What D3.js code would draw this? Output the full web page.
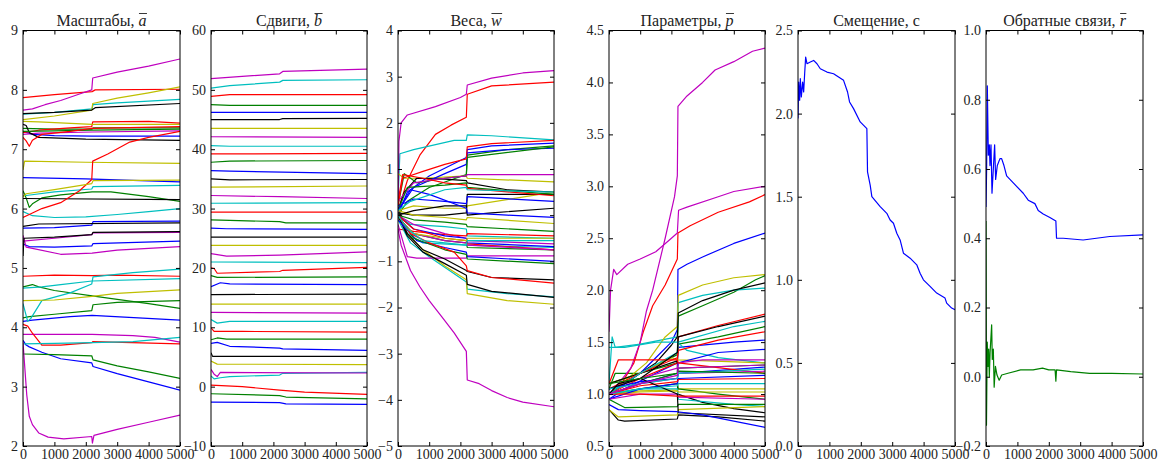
<!DOCTYPE html>
<html><head><meta charset="utf-8">
<script src="https://cdn.jsdelivr.net/npm/d3@7"></script>
<style>
body{margin:0;background:#fff}
svg text{font-family:"Liberation Serif","DejaVu Serif",serif;fill:#222}
</style>
</head><body>
<svg id="chart" width="1161" height="462"></svg>
<script>
// ---------- data ----------
const xTicks = [0, 1000, 2000, 3000, 4000, 5000];
const colorCycle = ["#0000ff", "#008000", "#ff0000", "#00bfbf", "#bf00bf", "#bfbf00", "#000000"];

const titles = [["Масштабы, ", "a"], ["Сдвиги, ", "b"], ["Веса, ", "w"], ["Параметры, ", "p"], ["Смещение, c", ""], ["Обратные связи, ", "r"]];

const ticksA = [2, 3, 4, 5, 6, 7, 8, 9];
const ticksB = [-10, 0, 10, 20, 30, 40, 50, 60];
const ticksW = [-5, -4, -3, -2, -1, 0, 1, 2, 3, 4];
const ticksP = [0.5, 1.0, 1.5, 2.0, 2.5, 3.0, 3.5, 4.0, 4.5];
const ticksC = [0.0, 0.5, 1.0, 1.5, 2.0, 2.5];
const ticksR = [-0.2, 0.0, 0.2, 0.4, 0.6, 0.8, 1.0];

// Scales a (series in colour-cycle order b,g,r,c,m,y,k)
const scalesA = [
 [[0,7.3],[300,7.25],[1000,7.23],[2200,7.22],[5000,7.22]],
 [[0,7.35],[1000,7.34],[2200,7.34],[2230,7.36],[5000,7.36]],
 [[0,7.87],[1000,7.92],[2200,7.97],[2300,8.0],[5000,8.01]],
 [[0,7.59],[1000,7.62],[2200,7.68],[2230,7.75],[3000,7.78],[5000,7.84]],
 [[0,7.66],[300,7.68],[700,7.75],[1200,7.82],[1800,7.93],[2190,8.0],[2220,8.2],[3000,8.3],[4000,8.4],[5000,8.52]],
 [[0,7.5],[1000,7.56],[2190,7.66],[2220,7.77],[3000,7.86],[4000,7.95],[5000,8.05]],
 [[0,7.6],[1000,7.62],[2190,7.66],[2300,7.7],[5000,7.77]],

 [[0,6.52],[2000,6.5],[5000,6.45]],
 [[0,6.3],[100,6.18],[200,6.02],[300,6.08],[600,6.18],[1200,6.23],[2200,6.28],[2800,6.28],[4000,6.2],[5000,6.12]],
 [[0,7.28],[500,7.32],[1500,7.36],[2190,7.38],[2220,7.46],[4000,7.47],[5000,7.44]],
 [[0,6.22],[100,6.22],[1000,6.28],[2190,6.33],[2230,6.37],[5000,6.39]],
 [[0,7.25],[500,7.27],[2200,7.29],[5000,7.31]],
 [[0,7.47],[500,7.46],[2200,7.42],[5000,7.42]],
 [[0,7.42],[100,7.4],[200,7.28],[500,7.2],[2000,7.17],[5000,7.15]],

 [[0,5.67],[1000,5.68],[2190,5.72],[2230,5.78],[5000,5.79]],
 [[0,7.3],[1000,7.31],[2200,7.32],[5000,7.34]],
 [[0,7.2],[100,7.14],[200,7.05],[300,7.15],[600,7.25],[1500,7.3],[2200,7.35],[5000,7.38]],
 [[0,5.95],[300,5.88],[1000,5.85],[2000,5.86],[3000,5.9],[4000,5.95],[5000,6.0]],
 [[0,5.45],[1000,5.5],[2190,5.56],[2230,5.59],[5000,5.6]],
 [[0,6.65],[50,6.8],[2000,6.78],[5000,6.76]],
 [[0,6.17],[5000,6.15]],

 [[0,5.4],[200,5.36],[1000,5.35],[2190,5.37],[2230,5.41],[5000,5.45]],
 [[0,4.68],[300,4.72],[500,4.68],[1000,4.62],[2200,4.53],[3000,4.47],[4000,4.4],[5000,4.32]],
 [[0,5.85],[200,5.9],[600,6.0],[1200,6.1],[1800,6.3],[2190,6.49],[2220,6.8],[2700,6.92],[3400,7.12],[4000,7.2],[5000,7.3]],
 [[0,4.66],[600,4.68],[1200,4.72],[2200,4.78],[5000,4.82]],
 [[0,5.55],[100,5.35],[300,5.33],[1200,5.23],[2200,5.25],[3000,5.3],[5000,5.36]],
 [[0,6.2],[100,6.25],[1000,6.32],[2190,6.42],[2230,6.47],[5000,6.48]],
 [[0,5.7],[500,5.74],[5000,5.76]],

 [[0,4.1],[300,4.12],[1500,4.18],[2200,4.2],[5000,4.12]],
 [[0,4.16],[200,4.18],[1000,4.22],[2190,4.28],[2230,4.38],[3000,4.42],[5000,4.45]],
 [[0,4.86],[1000,4.88],[2200,4.87],[3000,4.88],[5000,4.86]],
 [[0,4.4],[150,4.1],[250,4.15],[600,4.45],[1500,4.58],[2190,4.73],[2230,4.85],[3500,4.92],[5000,4.98]],
 [[0,3.88],[1000,3.88],[2200,3.88],[3500,3.86],[4200,3.83],[5000,3.75]],
 [[0,4.45],[1000,4.46],[2200,4.52],[3000,4.57],[5000,4.63]],
 [[0,5.2],[30,5.5],[1000,5.52],[2190,5.56],[2230,5.6],[5000,5.61]],

 [[0,3.78],[100,3.7],[200,3.67],[600,3.58],[1200,3.47],[2190,3.4],[2230,3.34],[3000,3.22],[4000,3.08],[5000,2.94]],
 [[0,3.55],[1000,3.54],[2190,3.52],[2230,3.45],[3000,3.35],[4000,3.25],[5000,3.14]],
 [[0,4.05],[150,4.02],[300,3.9],[600,3.7],[1200,3.7],[2190,3.74],[2230,3.76],[5000,3.72]],
 [[0,3.72],[1000,3.73],[2200,3.74],[3500,3.76],[5000,3.83]],
 [[0,3.75],[60,3.3],[120,2.86],[200,2.5],[300,2.36],[500,2.22],[800,2.15],[1300,2.12],[2190,2.16],[2210,2.05],[2260,2.18],[3000,2.28],[4000,2.4],[5000,2.52]]
];

// Shifts b
const shiftsB = [
 [[0,-2.6],[2200,-2.7],[2400,-2.9],[5000,-3.0]],
 [[0,-1.2],[2200,-1.5],[2400,-1.75],[5000,-2.05]],
 [[0,0.25],[1000,0.0],[2200,-0.6],[3000,-0.93],[5000,-1.3]],
 [[0,1.8],[100,1.3],[300,1.5],[600,1.7],[2200,1.95],[2300,2.25],[5000,2.4]],
 [[0,2.9],[100,2.1],[200,1.7],[300,2.4],[5000,2.3]],
 [[0,4.3],[200,3.8],[5000,3.7]],
 [[0,5.7],[50,5.1],[5000,5.1]],
 [[0,7.3],[200,7.45],[600,6.8],[2200,6.5],[2300,6.35],[5000,6.1]],
 [[0,7.9],[200,8.2],[500,8.0],[5000,8.0]],
 [[0,9.9],[100,9.3],[1000,9.3],[5000,9.2]],
 [[0,11.3],[200,10.7],[600,11.0],[5000,11.0]],
 [[0,12.5],[5000,12.4]],
 [[0,13.9],[5000,13.9]],
 [[0,15.5],[5000,15.6]],
 [[0,16.85],[300,17.5],[600,17.3],[5000,17.2]],
 [[0,18.7],[200,18.4],[5000,18.5]],
 [[0,20.0],[100,19.9],[200,19.1],[2200,19.4],[2300,19.6],[5000,20.1]],
 [[0,21.0],[5000,20.9]],
 [[0,22.4],[500,22.0],[2200,22.15],[5000,22.7]],
 [[0,23.8],[5000,23.8]],
 [[0,25.2],[5000,25.2]],
 [[0,26.7],[500,26.6],[5000,26.5]],
 [[0,28.1],[600,28.0],[2200,27.8],[2400,27.6],[5000,27.6]],
 [[0,29.4],[5000,29.4]],
 [[0,30.9],[5000,31.0]],
 [[0,32.2],[2200,32.0],[5000,31.7]],
 [[0,33.6],[5000,33.8]],
 [[0,35.0],[600,34.85],[5000,34.9]],
 [[0,36.4],[600,36.3],[5000,35.9]],
 [[0,37.8],[600,38.0],[5000,38.1]],
 [[0,39.2],[5000,39.3]],
 [[0,40.6],[600,40.5],[5000,40.5]],
 [[0,42.1],[5000,42.0]],
 [[0,43.5],[5000,43.5]],
 [[0,45.0],[2200,45.0],[2300,45.15],[5000,45.2]],
 [[0,46.2],[5000,46.2]],
 [[0,47.5],[600,47.4],[5000,47.4]],
 [[0,48.9],[600,49.2],[5000,49.2]],
 [[0,50.3],[600,50.7],[2200,51.3],[2300,51.6],[5000,51.7]],
 [[0,51.9],[2200,52.7],[2300,53.1],[5000,53.5]]
];

// Weights w
const weightsW = [
 [[0,0],[300,0.5],[1000,0.85],[2190,1.25],[2220,1.42],[3000,1.5],[5000,1.56]],
 [[0,0],[300,0.3],[1000,0.6],[2190,0.88],[2220,1.3],[3500,1.42],[5000,1.5]],
 [[0,0.1],[300,0.75],[700,1.3],[1200,1.75],[1700,1.95],[2190,2.12],[2220,2.62],[3000,2.8],[5000,2.88]],
 [[0,0.3],[60,1.33],[500,1.42],[1800,1.62],[2190,1.62],[2220,1.74],[3000,1.72],[5000,1.63]],
 [[0,0],[30,1.6],[100,2.0],[300,2.17],[1200,2.35],[2000,2.55],[2190,2.62],[2220,2.82],[3000,2.97],[4000,3.08],[5000,3.13]],
 [[0,0.9],[200,0.8],[800,0.8],[2190,0.85],[2220,0.8],[5000,0.72]],
 [[0,0.1],[200,0.5],[600,0.8],[1500,0.78],[2190,0.75],[2220,0.7],[3500,0.55],[5000,0.5]],

 [[0,0.1],[500,0.6],[1500,0.9],[2190,1.1],[2220,1.35],[3500,1.42],[5000,1.45]],
 [[0,0.2],[200,0.9],[600,0.7],[1500,0.8],[2190,0.85],[2220,1.25],[5000,1.48]],
 [[0,0.2],[150,0.8],[800,0.95],[1500,1.1],[2190,1.22],[2220,1.48],[3000,1.55],[5000,1.62]],
 [[0,0],[400,-0.2],[1500,-0.25],[2190,-0.3],[2220,-0.45],[5000,-0.5]],
 [[0,0.3],[500,0.7],[1500,0.8],[2190,0.85],[2220,0.88],[5000,0.88]],
 [[0,0.1],[500,0.2],[1500,0.15],[2190,0.15],[2220,0.2],[5000,0.5]],
 [[0,0.05],[500,0.0],[1500,0.0],[2190,0.05],[2220,0.45],[5000,0.45]],

 [[0,0.2],[500,0.35],[1500,0.3],[2190,0.25],[2220,0.4],[5000,0.3]],
 [[0,0.1],[300,0.6],[1500,0.65],[2190,0.7],[2220,0.6],[5000,0.45]],
 [[0,0.3],[150,0.88],[800,0.8],[1500,0.7],[2190,0.65],[2220,0.58],[5000,0.42]],
 [[0,0],[300,-0.4],[800,-0.6],[2190,-0.65],[2220,-0.65],[5000,-0.7]],
 [[0,0],[500,-0.2],[1500,-0.4],[2190,-0.5],[2220,-0.55],[5000,-0.62]],
 [[0,0.1],[500,0.0],[1500,-0.05],[2190,-0.1],[2220,-0.05],[5000,-0.18]],
 [[0,0],[500,0.1],[1500,0.2],[2190,0.2],[2220,0.0],[3000,0.05],[5000,0.15]],

 [[0,0.1],[400,0.55],[1000,0.45],[2190,0.15],[2220,0.05],[3500,0.0],[5000,-0.05]],
 [[0,0],[500,-0.1],[1500,-0.15],[2190,-0.2],[2220,-0.25],[5000,-0.35]],
 [[0,-0.3],[500,-0.35],[1500,-0.42],[2190,-0.45],[2220,-0.4],[5000,-0.45]],
 [[0,-0.1],[400,-0.6],[1000,-0.9],[2190,-1.45],[2220,-1.6],[3500,-1.7],[5000,-1.77]],
 [[0,-0.2],[300,-0.9],[600,-0.93],[2190,-0.93],[2220,-0.88],[5000,-0.88]],
 [[0,0],[300,-0.4],[800,-0.75],[1500,-1.1],[2190,-1.4],[2220,-1.7],[3500,-1.85],[5000,-1.93]],
 [[0,0],[300,-0.4],[800,-0.75],[1500,-0.95],[2190,-1.2],[2220,-1.22],[3000,-1.35],[5000,-1.4]],

 [[0,0],[500,-0.3],[1500,-0.45],[2190,-0.5],[2220,-0.6],[5000,-0.68]],
 [[0,-0.05],[500,-0.4],[1500,-0.55],[2190,-0.6],[2220,-0.7],[5000,-0.75]],
 [[0,0],[500,-0.3],[1500,-0.5],[2190,-0.55],[2220,-0.62],[5000,-0.75]],
 [[0,0.1],[400,0.3],[1500,0.55],[2190,0.6],[2220,0.55],[5000,0.5]],
 [[0,-0.1],[500,-0.4],[1500,-0.55],[2190,-0.6],[2220,-0.65],[5000,-0.75]],
 [[0,-0.1],[500,-0.4],[1500,-0.5],[2190,-0.55],[2220,-0.5],[5000,-0.5]],
 [[0,0],[300,-0.45],[800,-0.8],[1500,-1.05],[2190,-1.3],[2220,-1.5],[3000,-1.65],[5000,-1.78]],

 [[0,-0.1],[600,-0.55],[1500,-0.7],[2190,-0.8],[2220,-0.9],[5000,-1.0]],
 [[0,0],[500,-0.5],[1500,-0.75],[2190,-0.85],[2220,-0.95],[5000,-1.05]],
 [[0,0],[400,-0.4],[1000,-0.6],[1800,-0.8],[2190,-1.1],[2220,-1.2],[3000,-1.35],[5000,-1.47]],
 [[0,0],[300,-0.3],[800,-0.55],[1500,-0.6],[2190,-0.65],[2220,-0.55],[5000,-0.55]],
 [[0,-0.3],[100,-0.65],[400,-1.2],[700,-1.55],[1000,-1.85],[1400,-2.2],[1800,-2.55],[2190,-2.95],[2220,-3.57],[2600,-3.65],[3000,-3.8],[3500,-3.95],[4000,-4.05],[5000,-4.15]]
];

// Parameters p
const paramsP = [
 [[0,1.0],[500,1.1],[1000,1.2],[1500,1.35],[2000,1.5],[2190,1.62],[2210,2.2],[2500,2.25],[3000,2.32],[4000,2.45],[5000,2.55]],
 [[0,1.05],[200,1.2],[1000,1.2],[2190,1.38],[2220,1.75],[3000,1.85],[4000,1.98],[4700,2.1],[5000,2.14]],
 [[0,1.0],[400,1.1],[800,1.3],[1100,1.6],[1400,1.85],[1800,2.05],[2190,2.3],[2210,2.55],[2600,2.62],[3500,2.75],[4500,2.85],[5000,2.92]],
 [[0,1.1],[100,1.55],[200,1.45],[1000,1.48],[2190,1.55],[2220,1.88],[3000,1.95],[4000,2.0],[5000,2.02]],
 [[0,1.0],[300,1.1],[700,1.25],[1000,1.5],[1200,1.8],[1400,2.0],[1800,2.5],[2100,2.9],[2190,3.1],[2210,3.77],[2500,3.87],[3000,4.0],[3400,4.12],[4000,4.2],[4600,4.3],[5000,4.33]],
 [[0,1.0],[600,1.15],[1200,1.3],[1800,1.55],[2190,1.65],[2220,1.95],[3000,2.05],[4000,2.12],[5000,2.15]],
 [[0,1.0],[500,1.1],[1000,1.2],[1500,1.3],[2000,1.47],[2190,1.55],[2220,1.78],[3000,1.9],[4000,2.0],[5000,2.07]],

 [[0,0.95],[500,1.05],[1500,1.2],[2190,1.3],[2220,1.45],[4000,1.5],[5000,1.52]],
 [[0,1.1],[1000,1.2],[2190,1.3],[2220,1.48],[3500,1.55],[5000,1.65]],
 [[0,1.0],[1000,1.15],[2190,1.3],[2220,1.55],[3500,1.66],[5000,1.77]],
 [[0,1.45],[500,1.45],[1500,1.5],[2190,1.5],[2500,1.42],[3500,1.35],[5000,1.3]],
 [[0,1.6],[50,2.0],[150,2.2],[250,2.15],[600,2.25],[1000,2.3],[1500,2.37],[2000,2.5],[2190,2.55],[2230,2.77],[2500,2.8],[3500,2.9],[4000,2.95],[5000,3.0]],
 [[0,1.1],[1000,1.2],[2000,1.35],[2220,1.33],[5000,1.3]],
 [[0,1.1],[1000,1.2],[2190,1.32],[2200,1.0],[3000,0.92],[4000,0.86],[5000,0.82]],

 [[0,1.0],[1000,1.1],[2190,1.2],[2220,1.3],[3500,1.4],[5000,1.43]],
 [[0,1.0],[1000,1.1],[2190,1.2],[2220,1.25],[5000,1.28]],
 [[0,1.05],[1000,1.2],[2190,1.35],[2220,1.42],[3500,1.52],[5000,1.6]],
 [[0,1.0],[1000,1.2],[2190,1.4],[2220,1.5],[4000,1.65],[5000,1.7]],
 [[0,1.05],[1000,1.15],[2190,1.25],[2220,1.3],[3000,1.33],[5000,1.33]],
 [[0,1.0],[1000,1.03],[2190,1.04],[2220,1.05],[5000,1.05]],
 [[0,0.85],[300,0.75],[500,0.74],[2190,0.76],[2220,0.8],[3500,0.78],[5000,0.74]],

 [[0,1.05],[1000,1.12],[2190,1.15],[2220,1.2],[5000,1.26]],
 [[0,1.0],[1000,1.05],[2190,1.1],[2220,1.05],[3500,1.0],[5000,0.95]],
 [[0,1.1],[300,1.33],[2190,1.33],[2220,1.3],[5000,1.2]],
 [[0,1.0],[1000,1.05],[2190,1.05],[2220,0.95],[4000,0.9],[5000,0.88]],
 [[0,1.0],[1000,1.1],[2190,1.15],[2220,1.2],[5000,1.22]],
 [[0,1.0],[1000,1.02],[2190,1.03],[2220,1.02],[5000,1.02]],
 [[0,1.05],[1000,1.15],[2190,1.4],[2220,1.55],[3500,1.65],[5000,1.75]],

 [[0,0.95],[1000,1.05],[2190,1.1],[2220,1.15],[5000,1.18]],
 [[0,0.95],[500,0.87],[2190,0.88],[2220,0.9],[5000,0.9]],
 [[0,1.0],[1000,1.08],[2190,1.12],[2220,1.14],[5000,1.15]],
 [[0,1.05],[1000,1.1],[2190,1.15],[2220,1.2],[5000,1.24]],
 [[0,0.95],[1000,1.0],[2190,1.0],[2220,0.97],[5000,0.95]],
 [[0,0.85],[300,0.78],[2190,0.8],[2220,0.85],[5000,0.88]],
 [[0,1.0],[300,1.1],[1000,1.15],[2190,1.0],[2220,0.82],[5000,0.78]],

 [[0,0.9],[300,0.85],[1000,0.84],[2190,0.83],[3000,0.8],[4000,0.74],[5000,0.68]],
 [[0,1.1],[1000,1.15],[2190,1.2],[2220,1.22],[5000,1.2]],
 [[0,1.0],[1000,1.0],[2190,0.98],[2220,0.98],[5000,0.98]],
 [[0,1.0],[1000,1.05],[2190,1.08],[2220,1.1],[5000,1.1]],
 [[0,1.0],[1000,1.1],[2190,1.18],[2220,1.25],[5000,1.28]]
];

// Offset c
const offsetC = [
 [[0,1.97],[21,2.19],[53,2.08],[74,2.21],[106,2.1],[148,2.19],[180,2.13],[212,2.24],[244,2.34],[286,2.3],[392,2.31],[498,2.32],[604,2.3],[710,2.27],[922,2.25],[1133,2.24],[1292,2.22],[1451,2.2],[1578,2.13],[1642,2.07],[1769,2.03],[1981,1.95],[2193,1.91],[2214,1.65],[2299,1.57],[2352,1.5],[2617,1.44],[2828,1.4],[2934,1.36],[3040,1.34],[3146,1.28],[3252,1.24],[3358,1.16],[3570,1.13],[3782,1.09],[3888,1.04],[3994,1.0],[4206,0.96],[4417,0.92],[4682,0.89],[4735,0.86],[4894,0.83],[5000,0.82]]
];

// Feedback r
const feedbackR = [
 [[0,0.49],[20,0.6],[42,0.84],[74,0.64],[106,0.67],[127,0.61],[159,0.67],[191,0.53],[233,0.6],[275,0.67],[307,0.57],[360,0.61],[445,0.63],[498,0.63],[572,0.61],[657,0.58],[763,0.57],[975,0.55],[1186,0.53],[1345,0.51],[1557,0.5],[1663,0.48],[1822,0.47],[2034,0.46],[2225,0.45],[2246,0.4],[2458,0.4],[3093,0.395],[3517,0.4],[3941,0.405],[5000,0.41]],
 [[0,0.45],[15,-0.14],[40,0.1],[60,0.03],[85,0.08],[106,0.0],[130,0.07],[180,0.15],[200,0.05],[233,0.08],[260,-0.03],[300,0.03],[350,0.005],[420,-0.01],[500,0.005],[700,0.01],[1100,0.02],[1500,0.02],[1800,0.025],[2000,0.02],[2200,0.02],[2225,-0.013],[2246,0.02],[2700,0.015],[3300,0.01],[4000,0.01],[5000,0.008]]
];

// ---------- layout ----------
const panelX = [[23,180],[211,367],[398,554],[609,765],[798,955],[986,1143]];
const plotTop = 30.5, plotBottom = 446;
const panels = [
  {series: scalesA,   domain: [2, 9],     ticks: ticksA, fmt: d3.format("d")},
  {series: shiftsB,   domain: [-10, 60],  ticks: ticksB, fmt: d3.format("d")},
  {series: weightsW,  domain: [-5, 4],    ticks: ticksW, fmt: d3.format("d")},
  {series: paramsP,   domain: [0.5, 4.5], ticks: ticksP, fmt: d3.format(".1f")},
  {series: offsetC,   domain: [0, 2.5],   ticks: ticksC, fmt: d3.format(".1f")},
  {series: feedbackR, domain: [-0.2, 1],  ticks: ticksR, fmt: d3.format(".1f")}
];

const svg = d3.select("#chart");
const defs = svg.append("defs");

panels.forEach((p, pi) => {
  const [x0, x1] = panelX[pi];
  const x = d3.scaleLinear().domain([0, 5000]).range([x0, x1]);
  const y = d3.scaleLinear().domain(p.domain).range([plotBottom, plotTop]);
  const g = svg.append("g");

  defs.append("clipPath").attr("id", "clip" + pi)
    .append("rect").attr("x", x0).attr("y", plotTop).attr("width", x1 - x0).attr("height", plotBottom - plotTop);

  const line = d3.line().x(d => x(d[0])).y(d => y(d[1]));
  g.append("g").attr("clip-path", `url(#clip${pi})`)
    .selectAll("path").data(p.series).join("path")
    .attr("d", line)
    .attr("fill", "none")
    .attr("stroke", (d, i) => colorCycle[i % colorCycle.length])
    .attr("stroke-width", 1.2)
    .attr("stroke-linejoin", "round");

  const fs = 14;
  const left = g.append("g").attr("transform", `translate(${x0},0)`)
    .call(d3.axisLeft(y).tickValues(p.ticks).tickFormat(p.fmt).tickSizeInner(-4).tickSizeOuter(0).tickPadding(5));
  const right = g.append("g").attr("transform", `translate(${x1},0)`)
    .call(d3.axisRight(y).tickValues(p.ticks).tickFormat("").tickSizeInner(-4).tickSizeOuter(0));
  const bot = g.append("g").attr("transform", `translate(0,${plotBottom})`)
    .call(d3.axisBottom(x).tickValues(xTicks).tickFormat(d3.format("d")).tickSizeInner(-4).tickSizeOuter(0).tickPadding(3));
  const topA = g.append("g").attr("transform", `translate(0,${plotTop})`)
    .call(d3.axisTop(x).tickValues(xTicks).tickFormat("").tickSizeInner(-4).tickSizeOuter(0));
  [left, right, bot, topA].forEach(a => {
    a.select(".domain").remove();
    a.selectAll("line").attr("stroke", "#000");
    a.selectAll("text").attr("font-size", fs).attr("fill", "#222")
      .style("font-family", '"Liberation Serif","DejaVu Serif",serif');
  });

  g.append("rect").attr("x", x0).attr("y", plotTop).attr("width", x1 - x0).attr("height", plotBottom - plotTop)
    .attr("fill", "none").attr("stroke", "#000").attr("stroke-width", 1);

  const t = titles[pi];
  const ty = 25.5;
  const txt = g.append("text").attr("x", (x0 + x1) / 2).attr("y", ty)
    .attr("text-anchor", "middle").attr("font-size", 16);
  txt.append("tspan").text(t[0]);
  if (t[1]) {
    txt.append("tspan").attr("font-style", "italic").text(t[1]);
    const n = (t[0] + t[1]).length;
    const ext = txt.node().getExtentOfChar(n - 1);
    g.append("line").attr("x1", ext.x + 0.5).attr("x2", ext.x + ext.width + 0.5)
      .attr("y1", ty - 12).attr("y2", ty - 12)
      .attr("stroke", "#222").attr("stroke-width", 0.9);
  }
});
</script>
</body></html>
